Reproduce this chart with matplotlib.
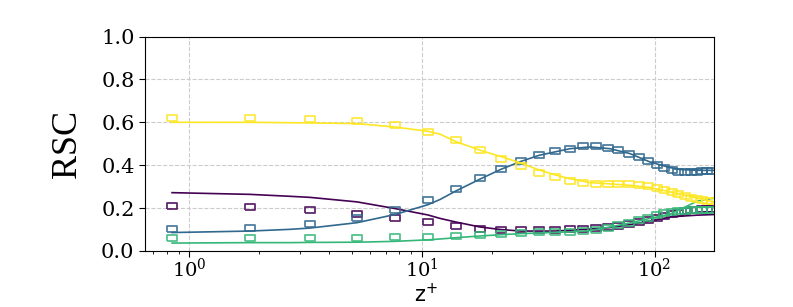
import numpy as np
import matplotlib
matplotlib.use("Agg")
import matplotlib.pyplot as plt

plt.rcParams["font.family"] = ["DejaVu Serif"]
plt.rcParams["mathtext.fontset"] = "dejavuserif"
plt.rcParams["mathtext.default"] = "regular"

# sampled points (squares)
z_pts = [0.843, 1.823, 3.302, 5.255, 7.654, 10.61, 14.0, 17.75, 21.87, 26.66,
         31.85, 37.3, 43.3, 49.3, 55.8, 62.8, 69.8, 77.8, 85.6, 93.9,
         102.0, 110.0, 118.3, 126.3, 134.9, 143.2, 151.5, 159.2, 167.3, 175.8]
pts_purple = [0.208, 0.204, 0.193, 0.174, 0.156, 0.134, 0.117, 0.104, 0.100, 0.100,
              0.100, 0.100, 0.103, 0.103, 0.107, 0.112, 0.117, 0.124, 0.134, 0.143,
              0.152, 0.162, 0.171, 0.177, 0.185, 0.190, 0.193, 0.196, 0.197, 0.198]
pts_blue = [0.101, 0.109, 0.124, 0.152, 0.190, 0.240, 0.291, 0.342, 0.384, 0.420,
            0.446, 0.465, 0.477, 0.488, 0.488, 0.482, 0.469, 0.454, 0.438, 0.420,
            0.403, 0.387, 0.376, 0.370, 0.368, 0.368, 0.370, 0.372, 0.372, 0.374]
pts_green = [0.059, 0.059, 0.061, 0.061, 0.064, 0.067, 0.069, 0.075, 0.081, 0.084,
             0.087, 0.088, 0.089, 0.092, 0.100, 0.109, 0.120, 0.131, 0.143, 0.156,
             0.166, 0.177, 0.182, 0.185, 0.188, 0.190, 0.191, 0.192, 0.192, 0.193]
pts_yellow = [0.622, 0.622, 0.617, 0.605, 0.586, 0.555, 0.516, 0.473, 0.431, 0.395,
              0.365, 0.344, 0.328, 0.317, 0.311, 0.311, 0.311, 0.311, 0.309, 0.302,
              0.296, 0.286, 0.277, 0.268, 0.257, 0.247, 0.241, 0.236, 0.233, 0.232]

# model curves (solid lines)
z_line = [0.843, 1.823, 2.709, 3.302, 5.255, 7.654, 10.61, 11.95, 14.0, 17.75,
          21.87, 26.66, 31.85, 37.3, 43.3, 52.7, 64.3, 78.4, 95.5, 116.4,
          128.5, 152.0, 180.0]
line_purple = [0.272, 0.264, 0.255, 0.250, 0.229, 0.198, 0.168, 0.152, 0.135, 0.112,
               0.100, 0.093, 0.093, 0.093, 0.097, 0.102, 0.109, 0.123, 0.140, 0.158,
               0.162, 0.167, 0.170]
line_blue = [0.086, 0.093, 0.101, 0.107, 0.132, 0.170, 0.216, 0.240, 0.280, 0.335,
             0.381, 0.418, 0.446, 0.462, 0.477, 0.485, 0.477, 0.454, 0.415, 0.389,
             0.380, 0.376, 0.376]
line_green = [0.037, 0.039, 0.039, 0.040, 0.041, 0.045, 0.052, 0.056, 0.062, 0.070,
              0.076, 0.081, 0.084, 0.087, 0.089, 0.095, 0.112, 0.131, 0.152, 0.172,
              0.193, 0.232, 0.247]
line_yellow = [0.600, 0.600, 0.598, 0.597, 0.594, 0.578, 0.558, 0.545, 0.510, 0.470,
               0.440, 0.410, 0.378, 0.355, 0.337, 0.319, 0.313, 0.306, 0.296, 0.276,
               0.265, 0.247, 0.228]

series = [
    (pts_purple, line_purple),
    (pts_blue, line_blue),
    (pts_green, line_green),
    (pts_yellow, line_yellow),
]
colors = plt.cm.viridis(np.linspace(0, 1, len(series)))

# wide open rectangle marker
rect = [(-1, -0.62), (1, -0.62), (1, 0.62), (-1, 0.62), (-1, -0.62)]

fig = plt.figure(figsize=(7.93, 3.07), dpi=100)
ax = fig.add_axes([145 / 793, 56 / 307, 569 / 793, 214.5 / 307])

for (pts, line), c in zip(series, colors):
    ax.plot(z_line, line, color=c, lw=1.2)
    ax.plot(z_pts, pts, ls="none", marker=rect, ms=6.5, mfc="none",
            mec=c, mew=1.3, alpha=0.85)

ax.set_xscale("log")
ax.set_xlim(0.645, 180)
ax.set_ylim(0, 1)
ax.set_yticks([0, 0.2, 0.4, 0.6, 0.8, 1.0])
ax.grid(True, which="major", ls="--", color="#cccccc", lw=0.8)
ax.tick_params(axis="both", which="major", labelsize=15, length=4)
ax.tick_params(axis="x", which="major", labelsize=14, pad=1)
ax.tick_params(axis="both", which="minor", length=2.5)
ax.set_xlabel(r"$\mathsf{z^{+}}$", fontsize=15)
ax.xaxis.set_label_coords(0.494, -0.15)
ax.set_ylabel("RSC", fontsize=26, family=["Liberation Serif", "DejaVu Serif"], labelpad=12)

fig.savefig("out.png", dpi=100)
